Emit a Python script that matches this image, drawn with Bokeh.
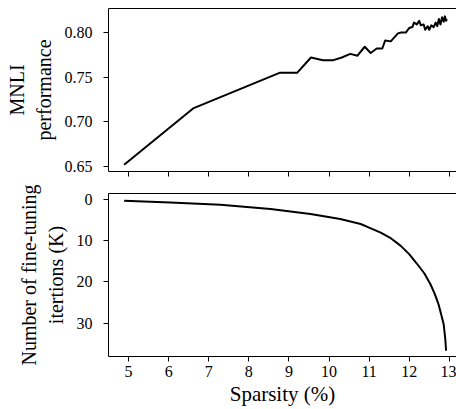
from bokeh.plotting import figure
from bokeh.layouts import column
from bokeh.models import Range1d, FixedTicker, PrintfTickFormatter, LinearAxis
from bokeh.embed import file_html
from bokeh.resources import INLINE

# ---- data ----
top_sparsity = [4.89, 6.61, 8.78, 9.21, 9.55, 9.85, 10.11, 10.32, 10.53, 10.71, 10.89, 11.04,
                11.19, 11.33, 11.40, 11.54, 11.72, 11.80, 11.92, 12.00, 12.08, 12.12, 12.19,
                12.25, 12.29, 12.36, 12.40, 12.46, 12.50, 12.55, 12.61, 12.66, 12.70, 12.74,
                12.78, 12.82, 12.86, 12.89, 12.92, 12.94]
mnli = [0.652, 0.715, 0.755, 0.755, 0.772, 0.769, 0.769, 0.772, 0.776, 0.774, 0.784, 0.777,
        0.782, 0.782, 0.791, 0.790, 0.799, 0.800, 0.800, 0.805, 0.806, 0.811, 0.809,
        0.813, 0.808, 0.809, 0.803, 0.807, 0.803, 0.808, 0.806, 0.811, 0.807, 0.815,
        0.809, 0.817, 0.812, 0.818, 0.813, 0.815]

iter_sparsity = [4.89, 6.04, 7.29, 8.54, 9.54, 10.28, 10.79, 11.00, 11.29, 11.55, 11.79, 12.00,
                 12.20, 12.38, 12.53, 12.64, 12.73, 12.80, 12.86, 12.90, 12.92]
iterations = [0.4, 0.8, 1.36, 2.4, 3.6, 4.8, 6.0, 6.9, 8.1, 9.5, 11.3, 13.3,
              15.7, 18.0, 20.6, 23.0, 25.4, 28.0, 30.3, 33.8, 36.7]

x_ticks = [5, 6, 7, 8, 9, 10, 11, 12, 13]
top_yticks = [0.65, 0.70, 0.75, 0.80]
bot_yticks = [0, 10, 20, 30]

FONT = "Liberation Serif"
TICK_SIZE = "16px"
LABEL_SIZE = "20px"

x_range = Range1d(4.5, 13.18)


def style_axis(ax):
    ax.axis_line_color = "black"
    ax.axis_line_width = 1
    ax.major_tick_line_color = "black"
    ax.major_tick_out = 5
    ax.major_tick_in = 0
    ax.minor_tick_line_color = None
    ax.major_label_text_font = FONT
    ax.major_label_text_font_size = TICK_SIZE
    ax.major_label_text_color = "black"
    ax.major_label_standoff = 3
    ax.axis_label_text_font = FONT
    ax.axis_label_text_font_size = LABEL_SIZE
    ax.axis_label_text_font_style = "normal"
    ax.axis_label_text_color = "black"


def top_spine(p):
    ax = LinearAxis(ticker=FixedTicker(ticks=[]))
    ax.axis_line_color = "black"
    ax.major_tick_out = 0
    ax.major_tick_in = 0
    ax.minor_tick_line_color = None
    ax.major_label_standoff = 0
    p.add_layout(ax, "above")


# ---- top panel ----
p1 = figure(frame_width=348, frame_height=163, x_range=x_range, y_range=Range1d(0.6444, 0.8268),
            output_backend="svg", toolbar_location=None,
            min_border_left=108, min_border_right=0, min_border_top=8, min_border_bottom=10)
p1.line(top_sparsity, mnli, line_color="black", line_width=2, line_join="round")
p1.xgrid.visible = False
p1.ygrid.visible = False
p1.outline_line_color = None
p1.xaxis.ticker = FixedTicker(ticks=x_ticks)
p1.yaxis.ticker = FixedTicker(ticks=top_yticks)
p1.yaxis.formatter = PrintfTickFormatter(format="%.2f")
style_axis(p1.xaxis[0])
p1.xaxis.major_label_overrides = {t: "" for t in x_ticks}
p1.xaxis.major_label_standoff = 0
style_axis(p1.yaxis[0])
p1.yaxis.major_label_standoff = 11
p1.yaxis.axis_label = "MNLI\nperformance"
p1.yaxis.axis_label_standoff = 7
top_spine(p1)

# ---- bottom panel ----
p2 = figure(frame_width=348, frame_height=163, x_range=x_range, y_range=Range1d(38.1, -1.38),
            output_backend="svg", toolbar_location=None,
            min_border_left=108, min_border_right=0, min_border_top=12, min_border_bottom=40)
p2.line(iter_sparsity, iterations, line_color="black", line_width=2, line_join="round")
p2.xgrid.visible = False
p2.ygrid.visible = False
p2.outline_line_color = None
p2.xaxis.ticker = FixedTicker(ticks=x_ticks)
p2.yaxis.ticker = FixedTicker(ticks=bot_yticks)
style_axis(p2.xaxis[0])
style_axis(p2.yaxis[0])
p2.yaxis.major_label_standoff = 11
p2.xaxis.major_label_standoff = 4
p2.xaxis.axis_label = "Sparsity (%)"
p2.xaxis.axis_label_text_font_size = "21px"
p2.xaxis.axis_label_standoff = 2
p2.yaxis.axis_label = "Number of fine-tuning\nitertions (K)"
p2.yaxis.axis_label_standoff = 7
top_spine(p2)

layout = column(p1, p2, spacing=0)
open("out.html", "w").write(file_html(layout, INLINE))
